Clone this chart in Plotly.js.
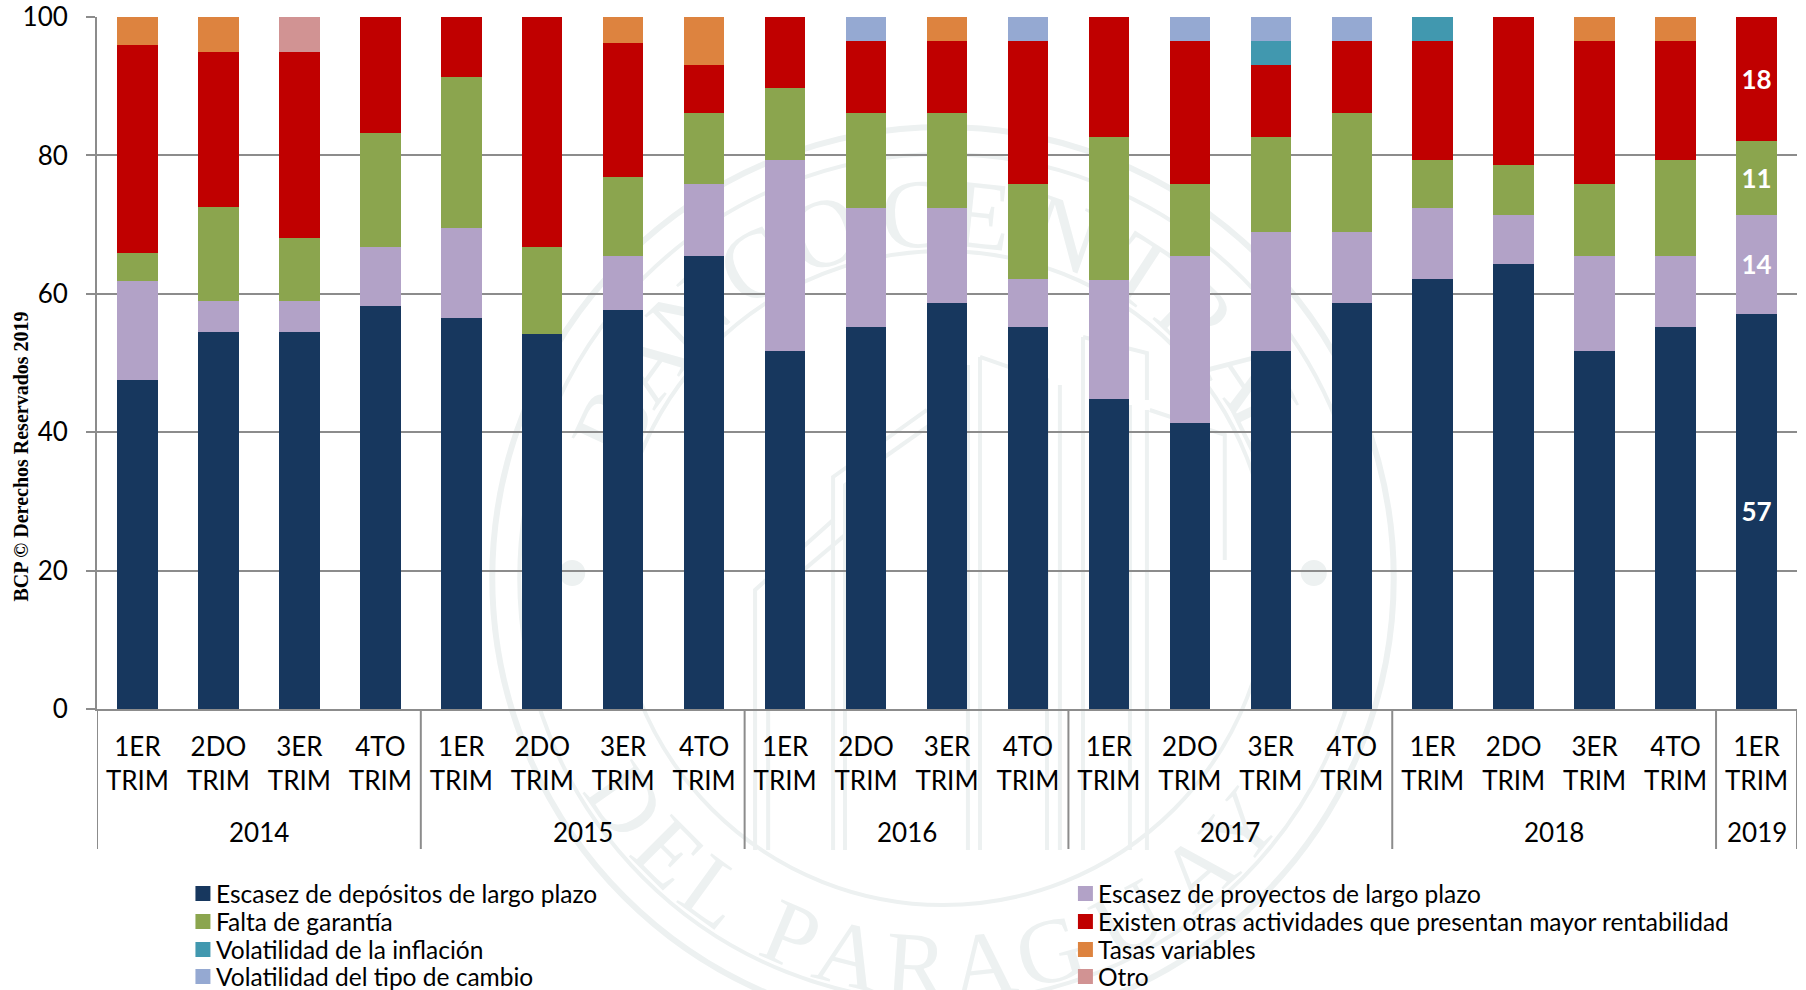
<!DOCTYPE html>
<html>
<head>
<meta charset="utf-8">
<script src="https://cdn.plot.ly/plotly-3.0.1.min.js"></script>
<style>html,body{margin:0;padding:0;background:#fff}#c{width:1806px;height:990px}</style>
</head>
<body>
<div id="c"></div>
<script>
const years = ["2014","2014","2014","2014","2015","2015","2015","2015","2016","2016","2016","2016","2017","2017","2017","2017","2018","2018","2018","2018","2019"];
const quarters = ["1ER<br>TRIM","2DO<br>TRIM","3ER<br>TRIM","4TO<br>TRIM","1ER<br>TRIM","2DO<br>TRIM","3ER<br>TRIM","4TO<br>TRIM","1ER<br>TRIM","2DO<br>TRIM","3ER<br>TRIM","4TO<br>TRIM","1ER<br>TRIM","2DO<br>TRIM","3ER<br>TRIM","4TO<br>TRIM","1ER<br>TRIM","2DO<br>TRIM","3ER<br>TRIM","4TO<br>TRIM","1ER<br>TRIM"];

const depositos = [47.6,54.5,54.5,58.3,56.5,54.2,57.7,65.5,51.7,55.2,58.6,55.2,44.8,41.4,51.7,58.6,62.1,64.3,51.7,55.2,57.1];
const proyectos = [14.3,4.5,4.5,8.4,13.0,0,7.7,10.3,27.6,17.2,13.8,6.9,17.2,24.1,17.2,10.3,10.3,7.1,13.8,10.3,14.3];
const garantia  = [4.0,13.6,9.0,16.6,21.8,12.5,11.5,10.3,10.4,13.8,13.8,13.8,20.7,10.3,13.8,17.3,6.9,7.2,10.3,13.8,10.7];
const otras     = [30.1,22.4,27.0,16.7,8.7,33.3,19.3,6.9,10.3,10.3,10.3,20.7,17.3,20.8,10.3,10.4,17.3,21.4,20.8,17.3,17.9];
const inflacion = [0,0,0,0,0,0,0,0,0,0,0,0,0,0,3.5,0,3.4,0,0,0,0];
const tipoCambio= [0,0,0,0,0,0,0,0,0,3.5,0,3.4,0,3.4,3.5,3.4,0,0,0,0,0];
const tasas     = [4.0,5.0,0,0,0,0,3.8,7.0,0,0,3.5,0,0,0,0,0,0,0,3.4,3.4,0];
const otro      = [0,0,5.0,0,0,0,0,0,0,0,0,0,0,0,0,0,0,0,0,0,0];

const seriesNames = ["Escasez de depósitos de largo plazo","Escasez de proyectos de largo plazo","Falta de garantía","Existen otras actividades que presentan mayor rentabilidad","Volatilidad de la inflación","Volatilidad del tipo de cambio","Tasas variables","Otro"];
const seriesValues = [depositos,proyectos,garantia,otras,inflacion,tipoCambio,tasas,otro];
const seriesColors = ["#17375e","#b2a2c7","#8ba54e","#c00000","#4198af","#95a9d2","#dd833f","#d19393"];
const labelledSeries = [0,1,2,3];
const legendColumn1 = [0,2,4,5];
const legendColumn2 = [1,3,6,7];

const topLetters = [["B",-65],["A",-54],["N",-44],["C",-31],["O",-19],["C",-4.6],["E",6],["N",19.5],["T",33],["R",44],["A",56],["L",64]];
const bottomLetters = [["D",-55],["E",-45],["L",-36],["P",-23],["A",-14],["R",-4],["A",6],["G",16],["U",28.6],["A",41],["Y",50]];

const W=1806,H=990,L=96.5,R=8.5,T=17,B=281;
const pw=W-L-R, ph=H-T-B;
const X=p=>(p-L)/pw, Y=p=>(H-B-p)/ph;
const FONT="Lato, 'Noto Sans', sans-serif";
const WM="#edf1f1";
const GRID="#8c8c8c";
const cx=943,cy=578;
const idx=years.map((_,i)=>i);

const traces=seriesNames.map((n,k)=>{
  const showLbl=labelledSeries.includes(k);
  return {
    type:'bar',name:n,x:idx,y:seriesValues[k],
    marker:{color:seriesColors[k],line:{width:0}},
    text:seriesValues[k].map((v,i)=>(showLbl&&i===20)?String(Math.round(v)):''),
    textposition:'inside',insidetextanchor:'middle',textangle:0,
    textfont:{family:FONT,size:26,color:'#ffffff',weight:700},
    cliponaxis:false,showlegend:false,hoverinfo:'name+y'
  };
});

const shapes=[];
const annotations=[];
function ring(r,w){shapes.push({type:'circle',layer:'below',xref:'paper',yref:'paper',x0:X(cx-r),x1:X(cx+r),y0:Y(cy+r),y1:Y(cy-r),line:{color:WM,width:w},fillcolor:'rgba(0,0,0,0)'});}
ring(451,6);ring(424,4);ring(327,4);
function dot(x,y,r){shapes.push({type:'circle',layer:'below',xref:'paper',yref:'paper',x0:X(x-r),x1:X(x+r),y0:Y(y+r),y1:Y(y-r),line:{width:0},fillcolor:WM});}
dot(572,573,13);dot(1314,573,13);
function poly(pts,w){
  const path=pts.map((p,i)=>(i?'L':'M')+X(p[0]).toFixed(4)+','+Y(p[1]).toFixed(4)).join(' ');
  shapes.push({type:'path',layer:'below',xref:'paper',yref:'paper',path:path,line:{color:WM,width:w||4}});
}
poly([[755,850],[755,590],[833,520],[833,477],[927,410]]);
poly([[768,850],[768,600],[845,535],[845,485],[930,425]]);
poly([[833,520],[833,850]]);poly([[845,535],[845,850]]);
poly([[980,357],[1047,380],[1047,850]]);poly([[980,357],[980,850]]);poly([[968,365],[968,850]]);
poly([[1060,385],[1060,850]]);
poly([[1083,337],[1147,353],[1147,400]]);poly([[1083,337],[1083,850]]);
poly([[1147,410],[1147,850]]);poly([[1130,405],[1130,850]]);
poly([[1150,410],[1225,435],[1225,560]]);

function letter(ch,px,py,rot,size){
  const s=30;
  shapes.push({type:'rect',layer:'below',xref:'paper',yref:'paper',x0:X(px-s),x1:X(px+s),y0:Y(py+s),y1:Y(py-s),
    line:{width:0},fillcolor:'rgba(0,0,0,0)',
    label:{text:ch,textposition:'middle center',textangle:rot,font:{family:"'Liberation Serif',serif",size:size,color:WM}}});
}
const rad=a=>a*Math.PI/180;
topLetters.forEach(([c,a])=>letter(c,cx+376*Math.sin(rad(a)),cy-376*Math.cos(rad(a)),a,98));
bottomLetters.forEach(([c,a])=>letter(c,cx+378*Math.sin(rad(a)),cy+378*Math.cos(rad(a)),-a,92));

// year groups: dividers and labels from the years array
const yearNames=[...new Set(years)];
const dividerBottom=Y(849);
const bounds=[-0.5];
yearNames.forEach(y=>{
  const first=years.indexOf(y), last=years.lastIndexOf(y);
  bounds.push(last+0.5);
  annotations.push({xref:'x',yref:'paper',x:(first+last)/2,y:Y(832),xanchor:'center',yanchor:'middle',showarrow:false,text:y,font:{family:FONT,size:26,color:'#000'}});
});
bounds.forEach(b=>shapes.push({type:'line',layer:'above',xref:'x',yref:'paper',x0:b,x1:b,y0:0,y1:dividerBottom,line:{color:GRID,width:2}}));

const rowYs=[893.5,921.5,949.5,976.5];
function legendCol(ids,sx,tx){
  ids.forEach((k,i)=>{
    const y=rowYs[i];
    shapes.push({type:'rect',layer:'above',xref:'paper',yref:'paper',x0:X(sx),x1:X(sx+15),y0:Y(y+7.5),y1:Y(y-7.5),line:{width:0},fillcolor:seriesColors[k]});
    annotations.push({xref:'paper',yref:'paper',x:X(tx),y:Y(y),xanchor:'left',yanchor:'middle',showarrow:false,text:seriesNames[k],font:{family:FONT,size:24.5,color:'#000'},xshift:-1.5,borderpad:0});
  });
}
legendCol(legendColumn1,195,216);
legendCol(legendColumn2,1078,1099);

annotations.push({xref:'paper',yref:'paper',x:X(20),y:Y(457),textangle:-90,showarrow:false,xanchor:'center',yanchor:'middle',text:'BCP © Derechos Reservados 2019',font:{family:"'Liberation Serif',serif",size:20,color:'#000',weight:700}});

const layout={
  width:W,height:H,showlegend:false,barmode:'stack',bargap:0.5,
  margin:{l:L,r:R,t:T,b:B,pad:0,autoexpand:false},
  paper_bgcolor:'#fff',plot_bgcolor:'rgba(0,0,0,0)',
  font:{family:FONT,color:'#000',size:26},
  xaxis:{type:'linear',range:[-0.5,20.5],tickmode:'array',tickvals:idx,ticktext:quarters,showline:true,linecolor:GRID,linewidth:2,ticks:'',
    tickfont:{family:FONT,size:26,color:'#000'},showgrid:false,zeroline:false,tickangle:0,ticklabelstandoff:14},
  yaxis:{range:[0,100],tick0:0,dtick:20,ticks:'outside',ticklen:9,tickwidth:2,tickcolor:GRID,showline:true,linecolor:GRID,linewidth:2,
    showgrid:true,gridcolor:GRID,gridwidth:2,zeroline:false,tickfont:{family:FONT,size:26,color:'#000'},ticklabelstandoff:13},
  shapes,annotations
};
Plotly.newPlot('c',traces,layout,{displayModeBar:false,staticPlot:true});
</script>
</body>
</html>
